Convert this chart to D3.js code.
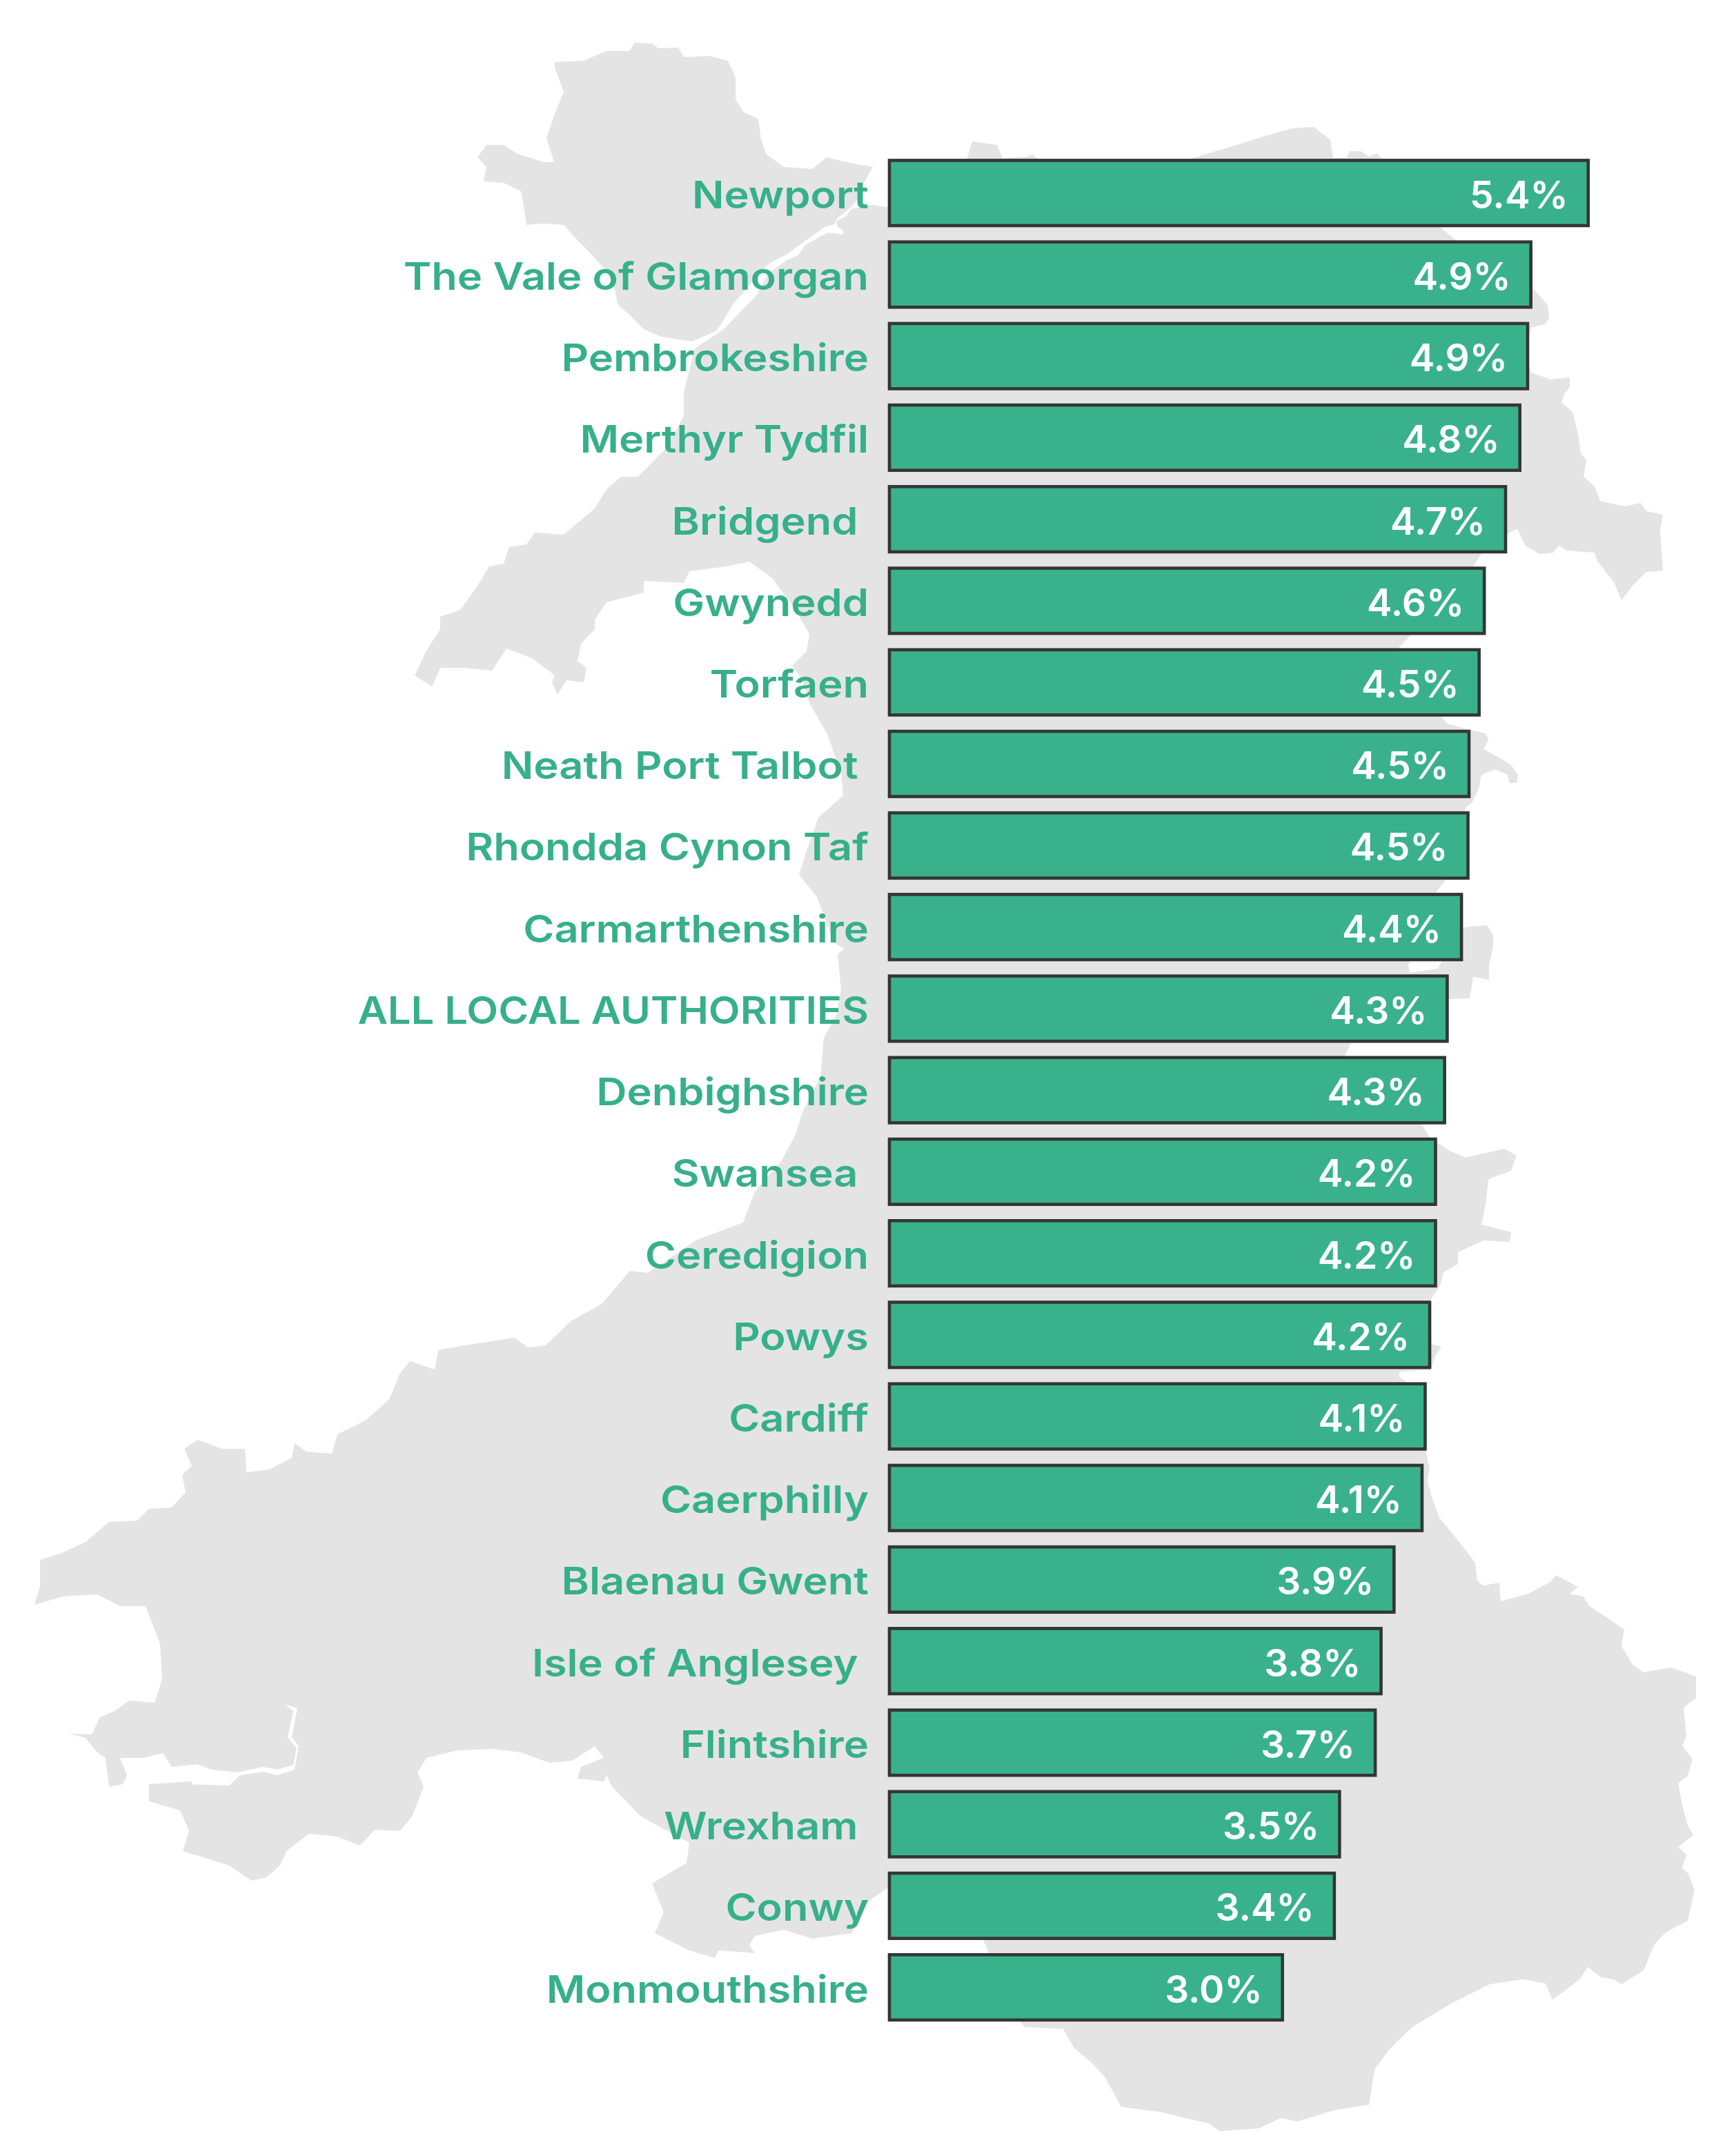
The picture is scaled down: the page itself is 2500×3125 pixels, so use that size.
<!DOCTYPE html>
<html><head><meta charset="utf-8">
<script src="https://cdn.jsdelivr.net/npm/d3@7"></script>
<style>html,body{margin:0;background:#fff}svg{display:block}text{white-space:pre}</style>
</head><body><svg id="c" width="2500" height="3125"></svg>
<script>
const categories=["Newport","The Vale of Glamorgan","Pembrokeshire","Merthyr Tydfil","Bridgend ","Gwynedd","Torfaen","Neath Port Talbot ","Rhondda Cynon Taf","Carmarthenshire","ALL LOCAL AUTHORITIES","Denbighshire","Swansea ","Ceredigion","Powys","Cardiff","Caerphilly","Blaenau Gwent","Isle of Anglesey ","Flintshire","Wrexham ","Conwy","Monmouthshire"];
const barValues=[5.387,4.945,4.92,4.86,4.75,4.586,4.546,4.468,4.46,4.41,4.30,4.28,4.21,4.21,4.165,4.13,4.106,3.89,3.79,3.745,3.47,3.43,3.03];
const valueLabels=["5.4%","4.9%","4.9%","4.8%","4.7%","4.6%","4.5%","4.5%","4.5%","4.4%","4.3%","4.3%","4.2%","4.2%","4.2%","4.1%","4.1%","3.9%","3.8%","3.7%","3.5%","3.4%","3.0%"];
// Map outlines, traced in reference map units
const angleseyOutline=[[804,98],[804,90],[846,88],[879,74],[912,74],[920,62],[945,63],[954,70],[983,69],[991,83],[1028,81],[1055,88],[1066,112],[1066,144],[1078,163],[1099,172],[1103,203],[1111,224],[1136,242],[1177,245],[1198,228],[1227,235],[1265,242],[1253,263],[1240,293],[1230,303],[1213,317],[1210,325],[1197,328],[1163,352],[1143,367],[1113,383],[1083,417],[1063,440],[1045,470],[1037,480],[1003,495],[958,488],[933,477],[912,456],[896,442],[891,421],[879,393],[854,365],[833,344],[817,326],[788,324],[763,326],[759,298],[755,277],[730,265],[701,263],[705,242],[692,228],[705,210],[730,210],[750,223],[788,235],[803,235],[792,200],[804,165],[817,133]];
const mainlandOutline=[[1007,505],[1028,491],[1049,477],[1077,448],[1097,427],[1113,397],[1140,377],[1157,370],[1167,355],[1200,337],[1222,340],[1222,335],[1213,327],[1213,320],[1227,313],[1233,303],[1263,297],[1285,300],[1385,290],[1400,235],[1409,205],[1445,210],[1453,229],[1489,227],[1497,224],[1505,232],[1600,300],[1700,290],[1728,229],[1776,215],[1824,200],[1872,186],[1904,184],[1928,203],[1932,229],[1952,229],[1956,219],[1972,219],[1984,227],[1996,222],[2004,232],[2070,300],[2087,329],[2107,346],[2219,415],[2243,442],[2245,461],[2239,470],[2219,475],[2210,510],[2219,540],[2247,550],[2275,547],[2275,561],[2267,571],[2263,583],[2279,597],[2287,628],[2291,657],[2299,667],[2295,691],[2311,705],[2319,726],[2354,734],[2378,729],[2386,741],[2410,746],[2406,767],[2410,827],[2386,829],[2366,849],[2350,870],[2339,844],[2315,813],[2311,801],[2271,798],[2259,791],[2251,801],[2231,803],[2211,791],[2199,767],[2187,772],[2170,790],[2147,803],[2135,821],[2043,922],[2026,940],[2060,1000],[2089,1039],[2098,1049],[2130,1058],[2153,1063],[2157,1072],[2150,1086],[2167,1095],[2190,1109],[2200,1123],[2198,1135],[2188,1135],[2185,1123],[2167,1115],[2147,1123],[2143,1144],[2133,1164],[2124,1170],[2095,1276],[2081,1293],[2070,1340],[2041,1399],[2043,1410],[2084,1404],[2089,1395],[2100,1370],[2121,1345],[2130,1343],[2155,1341],[2164,1355],[2164,1370],[2158,1400],[2158,1420],[2135,1416],[2130,1447],[2101,1448],[2040,1470],[1957,1513],[1949,1531],[2000,1590],[2061,1630],[2072,1649],[2101,1668],[2124,1678],[2180,1665],[2198,1675],[2190,1697],[2157,1709],[2153,1746],[2147,1775],[2190,1786],[2188,1800],[2150,1798],[2113,1815],[2113,1832],[2092,1844],[2088,1861],[2083,1870],[2072,1885],[2075,1948],[2089,1952],[2080,1965],[2074,1985],[2029,1988],[2027,1995],[2038,2003],[2067,2105],[2070,2122],[2072,2124],[2069,2147],[2075,2170],[2086,2200],[2115,2235],[2138,2265],[2141,2292],[2150,2298],[2173,2294],[2175,2321],[2215,2310],[2247,2293],[2255,2283],[2287,2300],[2275,2310],[2295,2314],[2303,2328],[2330,2345],[2354,2362],[2350,2386],[2366,2413],[2382,2424],[2422,2417],[2458,2430],[2458,2461],[2440,2475],[2444,2516],[2438,2530],[2453,2550],[2446,2574],[2432,2585],[2438,2616],[2446,2646],[2454,2660],[2432,2677],[2444,2688],[2438,2708],[2446,2715],[2456,2739],[2446,2784],[2414,2801],[2398,2818],[2382,2856],[2350,2876],[2338,2869],[2320,2866],[2301,2851],[2290,2868],[2262,2890],[2250,2898],[2240,2875],[2207,2869],[2159,2876],[2103,2904],[2047,2938],[2012,2972],[1992,3000],[1984,3051],[1936,3058],[1880,3075],[1856,3070],[1824,3085],[1768,3089],[1752,3078],[1681,3061],[1625,3054],[1601,3010],[1581,2989],[1557,2969],[1541,2941],[1485,2938],[1450,2900],[1433,2832],[1425,2811],[1380,2760],[1285,2737],[1248,2764],[1235,2802],[1177,2810],[1136,2797],[1094,2806],[1086,2819],[1094,2831],[1041,2827],[1036,2838],[999,2827],[949,2802],[962,2772],[945,2730],[995,2700],[999,2671],[929,2633],[887,2590],[879,2573],[875,2582],[837,2578],[842,2561],[875,2548],[862,2531],[829,2552],[796,2555],[755,2540],[713,2535],[663,2537],[618,2548],[605,2569],[614,2590],[597,2633],[580,2654],[543,2652],[522,2675],[489,2662],[448,2658],[415,2683],[406,2704],[386,2721],[365,2726],[332,2704],[265,2683],[274,2654],[261,2624],[216,2611],[216,2586],[278,2582],[278,2600],[262,2600],[262,2586],[332,2588],[348,2573],[381,2568],[402,2573],[427,2565],[433,2531],[423,2518],[431,2476],[412,2470],[425,2480],[417,2518],[430,2534],[425,2558],[402,2565],[381,2561],[344,2569],[307,2565],[286,2557],[249,2561],[236,2541],[207,2548],[174,2548],[184,2573],[178,2586],[158,2590],[153,2548],[141,2540],[124,2519],[100,2513],[133,2514],[145,2489],[166,2480],[187,2465],[224,2468],[235,2434],[232,2383],[211,2328],[174,2328],[141,2311],[91,2314],[50,2326],[58,2299],[58,2261],[87,2252],[124,2235],[158,2206],[199,2204],[216,2187],[249,2185],[269,2163],[264,2138],[278,2125],[267,2100],[286,2087],[323,2100],[355,2100],[357,2134],[390,2130],[423,2113],[427,2092],[444,2104],[481,2107],[489,2079],[531,2058],[564,2028],[580,1990],[594,1973],[630,1985],[635,1957],[673,1950],[745,1939],[765,1953],[791,1950],[827,1915],[872,1890],[913,1842],[939,1845],[1010,1797],[1077,1772],[1094,1727],[1133,1682],[1153,1644],[1163,1612],[1189,1561],[1194,1504],[1212,1472],[1219,1434],[1214,1383],[1224,1375],[1209,1367],[1184,1300],[1158,1268],[1168,1236],[1186,1185],[1222,1153],[1219,1121],[1199,1064],[1173,1019],[1161,982],[1148,965],[1169,944],[1173,919],[1153,884],[1119,838],[1086,814],[1053,821],[999,828],[991,845],[933,842],[933,859],[879,873],[862,898],[862,912],[842,933],[837,958],[850,968],[846,989],[821,986],[808,1007],[800,989],[804,979],[771,954],[734,940],[713,972],[672,968],[638,968],[626,995],[601,979],[618,943],[638,912],[638,894],[667,884],[692,849],[709,821],[730,817],[738,793],[763,789],[775,772],[817,775],[862,737],[879,709],[900,691],[925,691],[966,649],[991,603],[991,568]];

const svg=d3.select("#c");
const mapX=d3.scaleLinear([0,2500],[0,2500]), mapY=d3.scaleLinear([0,3125],[0,3125]);
const outline=d3.line().x(d=>mapX(d[0])).y(d=>mapY(d[1])).curve(d3.curveLinearClosed);
svg.append("g").selectAll("path").data([angleseyOutline,mainlandOutline]).join("path").attr("d",outline).attr("fill","#e4e4e4");

const x=d3.scaleLinear([0,1],[1289,1477]);
const y=d3.scaleBand(categories,[232.45,2927.85]).paddingInner(0.2).paddingOuter(0);
const green="#39b28c", font="Inter, 'Open Sans', sans-serif";
const row=svg.append("g").selectAll("g").data(categories).join("g");
row.append("rect").attr("x",x(0)).attr("y",d=>y(d)).attr("height",y.bandwidth())
  .attr("width",(d,i)=>x(barValues[i])-x(0)).attr("fill",green).attr("stroke","#353535").attr("stroke-width",4.6);
const labelK=d=>d===d.toUpperCase()?1.085:1.115;
row.append("text").attr("transform",d=>`translate(1259,${y(d)+y.bandwidth()/2+22}) scale(${labelK(d)},1)`)
  .attr("text-anchor","end").attr("font-family",font).attr("font-weight",600).attr("font-size",55).attr("fill","#37b08a").text(d=>d);
row.append("text").attr("transform",(d,i)=>`translate(${x(barValues[i])-29},${y(d)+y.bandwidth()/2+22})`)
  .attr("text-anchor","end").attr("font-family",font).attr("font-weight",600).attr("font-size",55).attr("fill","#fff").text((d,i)=>valueLabels[i]);
</script></body></html>
